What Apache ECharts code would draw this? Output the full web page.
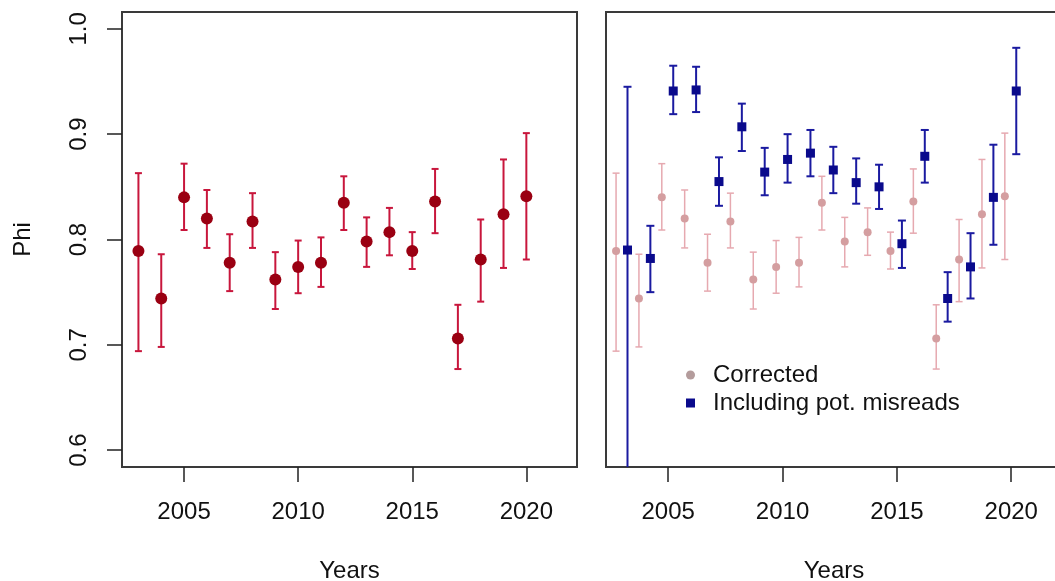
<!DOCTYPE html>
<html>
<head>
<meta charset="utf-8">
<script src="https://cdn.jsdelivr.net/npm/echarts@6/dist/echarts.min.js"></script>
<style>
  html, body { margin: 0; padding: 0; background: #fff; }
  #chart { width: 1055px; height: 581px; }
</style>
</head>
<body>
<div id="chart"></div>
<script>
// Annual survival (Phi) estimates with 95% intervals
const years = [2003, 2004, 2005, 2006, 2007, 2008, 2009, 2010, 2011, 2012, 2013, 2014, 2015, 2016, 2017, 2018, 2019, 2020];

// Corrected estimates
const corrected = [0.789, 0.744, 0.840, 0.820, 0.778, 0.817, 0.762, 0.774, 0.778, 0.835, 0.798, 0.807, 0.789, 0.836, 0.706, 0.781, 0.824, 0.841];
const corrLo    = [0.694, 0.698, 0.809, 0.792, 0.751, 0.792, 0.734, 0.749, 0.755, 0.809, 0.774, 0.785, 0.772, 0.806, 0.677, 0.741, 0.773, 0.781];
const corrHi    = [0.863, 0.786, 0.872, 0.847, 0.805, 0.844, 0.788, 0.799, 0.802, 0.860, 0.821, 0.830, 0.807, 0.867, 0.738, 0.819, 0.876, 0.901];

// Estimates including potential misreads
const misread = [0.790, 0.782, 0.941, 0.942, 0.855, 0.907, 0.864, 0.876, 0.882, 0.866, 0.854, 0.850, 0.796, 0.879, 0.744, 0.774, 0.840, 0.941];
const misLo   = [0.400, 0.750, 0.919, 0.921, 0.832, 0.884, 0.842, 0.854, 0.860, 0.844, 0.834, 0.829, 0.773, 0.854, 0.722, 0.744, 0.795, 0.881];
const misHi   = [0.945, 0.813, 0.965, 0.964, 0.878, 0.929, 0.887, 0.900, 0.904, 0.888, 0.877, 0.871, 0.818, 0.904, 0.769, 0.806, 0.890, 0.982];

const xTicks = [2005, 2010, 2015, 2020];
const yTicks = [0.6, 0.7, 0.8, 0.9, 1.0];

const FONT = '"Liberation Sans", Arial, sans-serif';
const DODGE_CORR = -0.28;
const DODGE_MIS = 0.22;

function pts(offset, vals) {
  return years.map((y, i) => [y + offset, vals[i]]);
}
function bars(offset, lo, hi) {
  return years.map((y, i) => [y + offset, lo[i], hi[i]]);
}

function errorBars(name, gridIdx, data, color, width, capHalf) {
  return {
    type: 'custom',
    name: name,
    xAxisIndex: gridIdx,
    yAxisIndex: gridIdx,
    silent: true,
    encode: { x: 0, y: [1, 2] },
    data: data,
    renderItem: function (params, api) {
      const x = api.value(0);
      const top = api.coord([x, api.value(2)]);
      const bot = api.coord([x, api.value(1)]);
      const cs = params.coordSys;
      const yMin = cs.y, yMax = cs.y + cs.height;
      const y1 = Math.max(top[1], yMin);
      const y2 = Math.min(bot[1], yMax);
      const st = { stroke: color, lineWidth: width };
      const children = [
        { type: 'line', shape: { x1: top[0], y1: y1, x2: top[0], y2: y2 }, style: st }
      ];
      if (top[1] >= yMin) {
        children.push({ type: 'line', shape: { x1: top[0] - capHalf, y1: top[1], x2: top[0] + capHalf, y2: top[1] }, style: st });
      }
      if (bot[1] <= yMax) {
        children.push({ type: 'line', shape: { x1: bot[0] - capHalf, y1: bot[1], x2: bot[0] + capHalf, y2: bot[1] }, style: st });
      }
      return { type: 'group', children: children };
    }
  };
}

function xAxisFor(gridIdx) {
  return {
    type: 'value',
    gridIndex: gridIdx,
    min: 2002.28,
    max: 2022.22,
    name: 'Years',
    nameLocation: 'middle',
    nameGap: 92,
    nameTextStyle: { fontFamily: FONT, fontSize: 24, color: '#111' },
    axisLine: { show: false },
    splitLine: { show: false },
    axisTick: { show: true, length: 15, customValues: xTicks, lineStyle: { color: '#222', width: 1.5 } },
    axisLabel: {
      show: true, customValues: xTicks, margin: 33,
      fontFamily: FONT, fontSize: 24, color: '#111',
      formatter: v => String(Math.round(v))
    }
  };
}

function yAxisFor(gridIdx, labelled) {
  return {
    type: 'value',
    gridIndex: gridIdx,
    min: 0.584,
    max: 1.016,
    name: labelled ? 'Phi' : '',
    nameLocation: 'middle',
    nameGap: 87,
    nameRotate: 90,
    nameTextStyle: { fontFamily: FONT, fontSize: 24, color: '#111' },
    axisLine: { show: false },
    splitLine: { show: false },
    axisTick: { show: labelled, length: 15, customValues: yTicks, lineStyle: { color: '#222', width: 1.5 } },
    axisLabel: {
      show: labelled, customValues: yTicks, rotate: 90, margin: 31,
      fontFamily: FONT, fontSize: 24, color: '#111',
      formatter: v => v.toFixed(1)
    }
  };
}

const chart = echarts.init(document.getElementById('chart'), null, { renderer: 'canvas' });

const gridBase = {
  top: 12, height: 455, show: true, borderColor: '#3a3a3a', borderWidth: 2,
  backgroundColor: 'transparent', outerBoundsMode: 'none', containLabel: false
};

chart.setOption({
  animation: false,
  backgroundColor: '#ffffff',
  grid: [
    Object.assign({ left: 122, width: 455 }, gridBase),
    Object.assign({ left: 606, width: 456 }, gridBase)
  ],
  xAxis: [xAxisFor(0), xAxisFor(1)],
  yAxis: [yAxisFor(0, true), yAxisFor(1, false)],
  legend: {
    orient: 'vertical',
    left: 686,
    top: 361,
    padding: 0,
    itemGap: 0,
    itemWidth: 9,
    itemHeight: 9,
    textStyle: { fontFamily: FONT, fontSize: 24, color: '#111', lineHeight: 28, padding: [0, 0, 0, 13] },
    data: [
      { name: 'Corrected', icon: 'circle', itemStyle: { color: '#b49c9c' } },
      { name: 'Including pot. misreads', icon: 'rect', itemStyle: { color: '#0a0a8c' } }
    ]
  },
  series: [
    // Left panel: corrected estimates
    errorBars('corrBarsL', 0, bars(0, corrLo, corrHi), '#c8163c', 2, 3.5),
    {
      type: 'scatter', name: 'CorrectedLeft', xAxisIndex: 0, yAxisIndex: 0,
      symbol: 'circle', symbolSize: 12,
      itemStyle: { color: '#9a0012', opacity: 1 },
      data: pts(0, corrected)
    },
    // Right panel: corrected (faded) behind misread-inclusive estimates
    errorBars('corrBarsR', 1, bars(DODGE_CORR, corrLo, corrHi), '#e6a9b0', 1.5, 3.5),
    {
      type: 'scatter', name: 'Corrected', xAxisIndex: 1, yAxisIndex: 1,
      symbol: 'circle', symbolSize: 8,
      itemStyle: { color: '#d49ea0', opacity: 1 },
      data: pts(DODGE_CORR, corrected)
    },
    errorBars('misBars', 1, bars(DODGE_MIS, misLo, misHi), '#1a1aa0', 2, 4),
    {
      type: 'scatter', name: 'Including pot. misreads', xAxisIndex: 1, yAxisIndex: 1,
      symbol: 'rect', symbolSize: 9,
      itemStyle: { color: '#0a0a8c', opacity: 1 },
      data: pts(DODGE_MIS, misread)
    }
  ]
});
</script>
</body>
</html>
